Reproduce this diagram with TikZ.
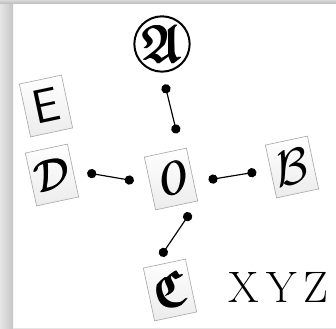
\documentclass[tikz,border=0pt]{standalone}
\usepackage{amssymb}
\usetikzlibrary{arrows}
\newcommand{\thickglyph}[1]{\rlap{#1}\kern0.5pt\rlap{#1}\kern0.5pt#1}

\begin{document}
\begin{tikzpicture}[x=0.6pt,y=-0.6pt,
	tile/.style={draw=gray!65, top color=white, bottom color=gray!15, rotate=12,
		minimum width=25.8pt, minimum height=32.4pt, inner sep=0pt},
	letter/.style={font=\fontsize{24.88}{26}\selectfont},
	link/.style={*-*, line width=0.7pt}]
		% Cadre
		\useasboundingbox (0,0) rectangle (336,329);
		\fill[white] (0,0) rectangle (336,329);
		\fill[left color=gray!20, right color=gray!45] (0,0) rectangle (13,329);
		\fill[top color=gray!30, bottom color=gray!55] (0,0) rectangle (336,4);
		\draw[gray!20] (13,328) -- (336,328);
		% Lettres
		\node[draw, circle, line width=1.2pt, minimum size=32.4pt, inner sep=0pt, letter] (A) at (162,44) {\scalebox{1.3}{\thickglyph{$\mathfrak{A}$}}};
		\node[tile, font=\fontsize{24.88}{26}\itshape] (O) at (171,179) {\scalebox{0.9}[1.1]{\thickglyph{O}}};
		\node[tile, letter] (B) at (292,167) {\scalebox{1.2}{$\mathcal{B}$}};
		\node[tile, letter] (C) at (170,290) {\scalebox{1.2}{\thickglyph{$\mathfrak{C}$}}};
		\node[tile, letter] (D) at (52,175) {\scalebox{1.05}{\thickglyph{$\mathcal{D}$}}};
		\node[tile, letter] (E) at (46,106) {\scalebox{1.15}{\sffamily E}};
		% Texte
		\node[anchor=base west, inner sep=0pt, font=\fontsize{26.4}{30}\selectfont] (xyz) at (228,303) {X\,Y\,Z};
		% Liens
		\draw[link, shorten <=7.2pt, shorten >=9.6pt] (A.south) -- (O.60);
		\draw[link, shorten <=8.4pt, shorten >=9.6pt] (D.east) -- (O.west);
		\draw[link, shorten <=8.8pt, shorten >=8.4pt] (O.-20) -- (B.175);
		\draw[link, shorten <=8.4pt, shorten >=6.6pt] (O.south east) -- (C.110);
\end{tikzpicture}
\end{document}
